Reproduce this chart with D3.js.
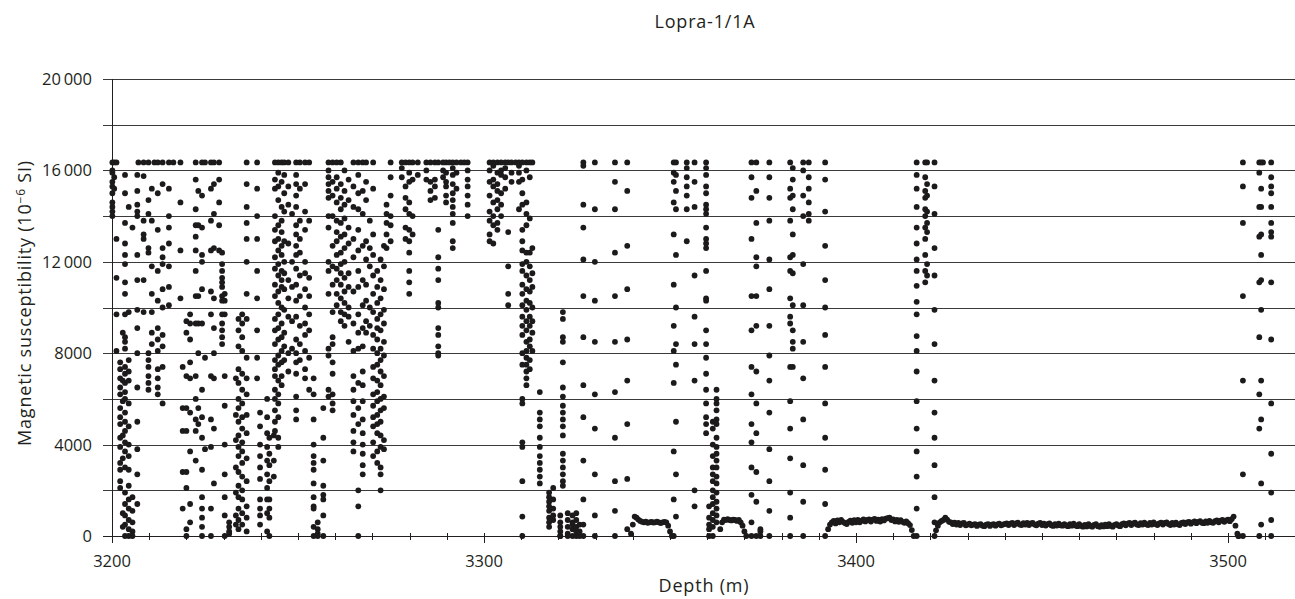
<!DOCTYPE html>
<html lang="en">
<head>
<meta charset="UTF-8" />
<title>Lopra-1/1A</title>
<script src="https://d3js.org/d3.v7.min.js"></script>
<style>
  body { margin: 0; background: #fff; }
  svg { display: block; font-family: "Open Sans", Lato, sans-serif; fill: #231f20; }
  .grid line { stroke: #3a3a3a; stroke-width: 1; shape-rendering: crispEdges; }
  .axis line { stroke: #231f20; stroke-width: 1; shape-rendering: crispEdges; }
  .tick-label { font-size: 16.5px; fill: #231f20; }
  .title, .axis-title { font-size: 18px; letter-spacing: 0.8px; fill: #231f20; }
  .dot { fill: #1c1a1a; }
</style>
</head>
<body>
<script>
// Magnetic susceptibility, values in thousands of 10^-6 SI, grouped by depth (m)
const cols3200 = [
  [3200.1, [16.35, 16.0, 15.9, 15.5, 15.3, 15.0, 14.6, 14.4, 14.2, 14.0]],
  [3200.6, [16.35, 15.7, 15.2]],
  [3201.2, [16.35, 13.0, 11.3, 9.7, 8.1]],
  [3202.2, [7.6, 7.3, 6.9, 6.5, 6.2, 5.6, 5.2, 4.9, 4.3, 3.9, 3.2, 2.9, 2.4, 2.1]],
  [3202.9, [8.9, 6.8, 5.9, 4.4, 3.4, 1.0, 0.4]],
  [3203.5, [15.8, 15.0, 13.7, 12.8, 12.3, 11.9, 11.1, 10.6, 9.7, 8.7, 8.5, 8.2, 7.4, 7.1, 6.7, 6.3, 6.0, 5.4, 5.0, 4.6, 4.1, 3.7, 3.0, 1.9, 1.4, 0.9, 0.5, 0]],
  [3204.5, [14.4, 9.8, 7.7, 7.2, 6.8, 5.8, 4.8, 4.0, 3.5, 2.9, 2.2, 1.6, 1.2, 0.7, 0.3, 0]],
  [3205.5, [13.5, 1.7, 1.1, 0.6, 0.2, 0]],
  [3206.8, [15.8, 15.1, 14.5, 14.2, 14.0, 12.3, 11.2, 9.9, 9.1, 8.0, 6.5, 5.0, 3.8, 2.7, 1.4]],
  [3207.1, [16.35]],
  [3208.5, [16.35, 15.75, 13.8, 13.2, 13.0, 11.2, 9.8]],
  [3209.8, [16.35, 14.7, 14.1, 12.6, 12.4, 8.0, 7.7, 7.4, 7.0, 6.7, 6.4]],
  [3210.7, [15.2, 13.8, 11.8, 10.6, 9.8, 8.9, 8.4]],
  [3211.4, [16.35]],
  [3212.3, [16.35, 15.0, 13.4, 11.6, 10.3, 9.1, 8.6, 8.1, 7.3, 6.9, 6.5, 6.2]],
  [3213.6, [16.35, 15.4, 12.6, 12.2, 11.9, 10.8, 10.0, 8.8, 8.3, 7.4, 5.8]],
  [3215.3, [16.35, 15.2, 14.0, 13.5, 12.8, 11.8, 10.9, 10.1]],
  [3216.5, [16.35]],
  [3218.4, [16.35, 14.6, 12.5, 10.4]],
  [3219.0, [7.4, 5.6, 4.6, 2.8, 1.2]],
  [3220.0, [9.4, 8.9, 7.0, 5.6, 4.6, 2.8, 2.1, 0.3, 0]],
  [3221.0, [9.7, 9.3, 8.6, 7.6, 6.9, 5.4, 3.7, 1.4, 0.6]],
  [3222.5, [16.35, 15.6, 14.3, 13.6, 13.1, 12.5, 11.6, 10.5, 9.3, 7.0, 6.0, 5.1, 4.6, 3.3]],
  [3223.2, [15.1, 13.6, 10.5, 9.3, 8.0, 5.6, 4.9]],
  [3224.2, [16.35, 14.9, 13.5, 12.3, 12.0, 10.8, 9.3, 6.4, 5.2, 4.3, 2.9, 1.7, 1.2, 0.8, 0.4, 0]],
  [3225.0, [16.35, 7.8, 3.8]],
  [3226.6, [16.35, 15.2, 13.8, 12.5, 10.7, 9.7, 7.0, 5.1, 3.9, 1.2, 0]],
  [3227.4, [16.35, 15.4, 14.1, 12.6, 10.4, 9.1, 8.0, 6.9, 4.7, 2.3]],
  [3228.8, [16.35, 15.6, 14.6, 13.6, 12.5]],
  [3229.6, [12.4, 11.9, 11.6, 11.3, 11.1, 10.9, 10.5, 10.3, 9.7, 9.3, 9.0, 8.7, 8.4]],
  [3230.3, [10.6, 10.3, 9.7, 7.0, 5.7, 4.0, 2.7, 1.7, 0.9, 0]],
  [3231.5, [0.6, 0.4, 0.2, 0.1]],
  [3233.3, [6.9, 5.3, 4.2, 3.0, 1.9, 0.9, 0.5]],
  [3234.0, [9.5, 9.0, 8.3, 7.3, 6.7, 6.0, 5.6, 5.0, 4.4, 3.9, 3.5, 2.8, 2.2, 1.7, 1.2, 0.7, 0.3]],
  [3235.0, [9.7, 9.3, 8.7, 8.1, 7.1, 6.4, 5.8, 5.2, 4.7, 4.1, 3.7, 3.2, 2.6, 2.0, 1.6, 1.0, 0.5]],
  [3236.2, [16.35, 15.4, 14.4, 13.7, 13.0, 12.0, 10.6, 9.5, 7.8, 6.9, 6.2, 5.3, 4.5, 3.4, 2.4, 1.3, 0.8, 0.2]],
  [3239.0, [16.35, 15.2, 14.0, 13.0, 11.6, 10.4, 9.0, 7.8, 6.9]],
  [3239.8, [5.4, 4.8, 4.0, 3.5, 3.0, 2.5, 1.6, 1.2, 0.9, 0.5]],
  [3241.7, [6.0, 5.2, 4.5, 3.9, 3.3, 2.7, 2.1, 1.6, 1.0, 0.2]],
  [3242.3, [4.3, 3.6, 3.1, 2.4, 1.6, 1.2, 0.8, 0]]
];

const cols3243 = [
  [3243.5, [4.4, 3.3, 2.6]],
  [3243.8, [16.35, 15.6, 15.2, 14.0, 13.4, 12.9, 12.2, 11.7, 11.0, 10.5, 9.5, 9.0, 8.4, 7.7, 7.3, 7.0, 6.4, 6.0, 5.5, 5.0, 4.6]],
  [3244.7, [16.35, 15.9, 15.3, 14.7, 13.6, 13.0, 12.5, 11.9, 11.4, 10.7, 10.2, 9.7, 9.1, 8.6, 7.9, 7.5, 6.8, 6.2, 5.8, 5.2, 4.3, 3.9]],
  [3245.6, [16.35, 15.5, 14.4, 13.8, 13.3, 12.7, 12.3, 11.6, 11.2, 10.9, 10.0, 9.3, 8.7, 8.1, 7.6, 7.0, 6.6]],
  [3246.3, [16.35, 15.8, 15.0, 14.2, 12.9, 12.0, 11.5, 10.8, 9.9, 8.9, 8.3, 7.7]],
  [3247.4, [16.35, 15.3, 14.5, 12.8, 11.2, 10.4, 9.6, 8.0, 7.2]],
  [3248.4, [14.1, 12.0, 10.9, 9.4, 8.2]],
  [3249.5, [16.35, 15.8, 15.4, 14.9, 14.4, 13.6, 13.2, 12.7, 12.3, 11.7, 11.0, 10.3, 9.6, 8.6, 8.0, 7.6, 7.1, 6.1, 5.5, 5.1]],
  [3250.5, [16.35, 15.2, 13.8, 13.0, 12.4, 11.4, 10.5, 9.2, 8.4, 7.7]],
  [3251.9, [16.35, 15.4, 14.2, 13.4, 12.0, 11.5, 10.8, 10.0, 9.3, 8.8, 8.1, 7.3, 6.9]],
  [3253.0, [16.35, 13.8, 11.3, 10.5, 9.7, 9.0, 7.8, 6.4]],
  [3254.2, [6.9, 6.2, 5.1, 4.0, 3.5, 3.2, 2.9, 2.3, 1.7, 1.3, 1.2, 0.4, 0]],
  [3255.3, [0.6, 0.3, 0.1, 0]],
  [3256.8, [5.6, 4.3, 3.3, 2.2, 1.8, 1.6, 0.9, 0]],
  [3258.2, [16.35, 16.0, 15.7, 15.4, 15.1, 14.8, 14.0, 13.5, 12.0, 11.6, 10.6, 8.2, 7.9, 6.4, 6.1]],
  [3259.3, [16.35, 15.5, 14.9, 14.0, 12.7, 11.8, 11.0, 9.8, 8.7, 8.4, 7.6, 7.1, 6.2, 5.8, 5.5]],
  [3260.4, [16.35, 15.7, 15.2, 14.6, 13.8, 13.3, 12.9, 12.3, 11.7, 11.2, 10.6, 10.1]],
  [3261.5, [16.35, 15.4, 14.8, 14.3, 13.7, 13.1, 12.4, 11.9, 11.5, 11.0, 10.4, 9.8, 9.4]],
  [3262.5, [16.0, 15.1, 14.5, 13.9, 13.2, 12.6, 12.0, 11.3, 10.7, 10.2, 9.7, 9.2]],
  [3263.6, [15.6, 14.7, 13.5, 12.8, 11.5, 10.9, 10.0, 9.6, 8.5]],
  [3264.9, [16.35, 15.3, 14.4, 13.0, 12.2, 10.7, 9.3, 8.1, 7.0, 6.4, 5.9, 5.3, 4.6, 4.1, 3.7]],
  [3266.2, [16.35, 15.8, 15.0, 14.3, 13.4, 12.5, 11.6, 10.9, 9.7, 8.9, 8.2, 6.7, 5.6, 4.9, 2.0, 1.3, 0]],
  [3267.4, [16.35, 15.1, 14.1, 12.7, 11.2, 10.1, 9.1, 8.3, 7.2, 6.6, 5.9, 5.1, 4.5, 4.0, 3.6, 3.1, 2.7]],
  [3268.3, [16.35, 15.5, 14.7, 12.9, 12.1, 11.0, 10.3, 9.4, 8.9]],
  [3269.3, [13.8, 12.6, 11.8, 10.0, 9.2]],
  [3270.2, [16.35, 15.2, 13.2, 12.3, 11.4, 10.6, 9.8, 8.8, 8.2, 7.4, 6.9, 6.2, 5.7, 5.2, 4.8, 4.1, 3.5]],
  [3271.3, [11.6, 10.9, 10.2, 9.5, 9.1, 8.6, 8.0, 7.5, 6.8, 6.3, 5.9, 5.3, 4.9, 4.5, 3.7, 3.2]],
  [3272.2, [12.1, 11.2, 10.4, 9.7, 9.0, 8.2, 7.7, 7.2, 6.6, 6.0, 5.5, 5.0, 4.4, 3.9, 3.0, 2.7, 2.0]],
  [3273.1, [12.7, 11.8, 10.8, 9.9, 9.3, 8.5, 7.9, 7.0, 6.1, 5.6, 4.2, 3.8]],
  [3273.8, [14.5, 14.1, 13.7, 13.2, 12.6]],
  [3274.9, [16.35, 15.7, 14.9, 14.0, 13.6, 12.9]],
  [3277.9, [16.35, 16.1, 15.7]],
  [3278.9, [16.35, 15.3, 14.8, 14.3, 13.5, 13.0]],
  [3279.9, [16.35, 15.9, 15.5, 14.6, 14.1, 13.4, 12.9, 12.4, 11.6, 11.1, 10.6]],
  [3280.8, [16.35, 15.6, 14.0, 13.2]],
  [3282.2, [16.35, 15.8]]
];

const cols3284 = [
  [3284.5, [16.35, 16.0, 15.6]],
  [3285.6, [16.35, 15.5, 15.1, 14.7]],
  [3286.8, [16.35, 15.6, 15.3, 14.8]],
  [3287.7, [16.35, 13.4, 12.2, 11.7, 11.2, 10.2, 10.0, 9.1, 8.8, 8.3, 8.0, 7.9]],
  [3289.0, [16.35, 16.0, 15.7]],
  [3289.8, [16.35, 15.9, 15.5, 15.3, 14.9, 14.6]],
  [3290.7, [16.35]],
  [3291.6, [16.35, 16.1, 15.8, 15.4, 15.0, 14.7, 14.4, 14.1, 13.7, 12.9, 12.6]],
  [3292.6, [16.35, 15.9, 15.2]],
  [3293.8, [16.35]],
  [3294.7, [16.35]],
  [3295.6, [16.35, 16.0, 15.6, 15.3, 14.9, 14.5, 14.0]],
  [3301.5, [16.35, 16.0, 15.5, 14.9, 14.2, 13.8, 13.2, 12.9]],
  [3302.5, [16.35, 16.2, 15.6, 15.3, 14.6, 14.0, 13.6, 12.8]],
  [3303.6, [16.35, 15.9, 15.4, 15.1, 14.7, 14.3, 13.7, 13.4]],
  [3304.6, [16.35, 16.0, 15.8, 15.0, 14.5, 14.0]],
  [3305.7, [16.35, 16.1, 15.7, 15.2]],
  [3306.5, [16.35, 13.3, 11.8, 10.6, 10.1]],
  [3307.4, [16.35, 15.9, 15.5]],
  [3308.5, [16.35]],
  [3309.4, [16.35, 16.2, 15.9, 15.5, 14.3]],
  [3310.3, [16.35, 15.6, 15.0, 14.5, 13.4, 12.9, 12.5, 11.9, 11.6, 11.0, 10.6, 10.1, 9.6, 9.2, 8.8, 8.0, 7.5, 6.0, 5.8, 4.1, 3.9, 2.4, 0.85, 0]],
  [3311.4, [16.35, 16.0, 14.6, 14.1, 13.6, 12.4, 12.0, 11.4, 10.8, 10.3, 9.9, 9.4, 9.0, 8.5, 8.1, 7.8, 7.5, 7.2, 6.9, 6.6]],
  [3312.3, [16.35, 15.7, 13.9, 12.4, 11.8, 11.2, 10.7, 10.2, 9.6, 9.2, 8.6, 8.3, 7.7, 7.3]],
  [3313.0, [16.35, 12.6, 11.5, 10.9, 10.0, 9.4, 8.9, 8.1]],
  [3315.0, [6.3, 5.4, 5.1, 4.8, 4.3, 3.9, 3.5, 3.2, 2.9, 2.6, 2.3]],
  [3317.5, [1.9, 1.7, 1.5, 1.3, 1.1, 0.8, 0.6, 0.4]],
  [3318.6, [2.1, 1.6, 1.2, 0.9, 0.7]],
  [3320.5, [0.9, 0.6, 0.4, 0.2, 0, 0]],
  [3321.2, [9.8, 9.5, 8.7, 8.5, 7.6, 6.5, 6.1, 5.7, 5.4, 5.1, 4.8, 4.4, 3.6, 3.3, 3.0, 2.7, 2.4, 2.2]],
  [3322.5, [1.0, 0.7, 0.4, 0.1, 0]],
  [3323.8, [0.9, 0.6, 0.5, 0.3, 0]],
  [3324.8, [1.0, 0.7, 0.4, 0.2, 0]],
  [3325.7, [0.5, 0.2, 0]]
];

const cols3326 = [
  [3326.7, [16.35, 16.2, 14.5, 13.5, 12.1, 10.5, 8.7, 6.6, 5.2, 3.3, 1.6, 0.5, 0]],
  [3329.8, [16.35, 14.3, 12.0, 10.3, 8.5, 6.2, 4.7, 2.7, 0.9, 0]],
  [3335.2, [16.35, 15.5, 14.3, 12.4, 10.5, 8.5, 6.3, 4.3, 2.4, 1.1, 0]],
  [3338.5, [16.35, 15.1, 12.7, 10.8, 8.6, 6.8, 4.9, 2.5, 0.3]],
  [3351.0, [16.35, 15.9, 15.5, 14.6, 13.2, 11.0, 9.2, 8.1, 6.7, 3.7, 1.6, 0]],
  [3351.6, [16.35, 15.8, 15.1, 14.3, 12.3, 10.0, 8.4, 7.5, 5.0, 2.7, 0.85]],
  [3354.5, [16.35, 16.1, 15.7, 15.3, 14.9, 14.3, 12.9]],
  [3356.6, [16.35, 15.5, 14.4, 11.4, 9.6, 8.4, 6.8, 2.0, 1.3]],
  [3359.7, [16.35, 16.1, 15.8, 15.3, 15.0, 14.5, 14.3, 14.1, 13.5, 13.0, 12.8, 12.6, 11.6, 10.4, 10.3, 9.0, 8.4, 7.8, 7.1, 6.4, 5.8, 5.2, 4.9, 4.5]],
  [3360.5, [1.3, 0.8, 0.5, 0.3, 0]],
  [3361.5, [5.0, 4.7, 4.0, 3.5, 3.0, 2.7, 2.4, 2.0, 1.7, 1.4, 1.0, 0.7, 0.4, 0]],
  [3362.5, [6.4, 6.0, 5.8, 5.5, 5.1, 4.9, 4.3, 3.9, 3.6, 3.3, 3.0, 2.6, 2.3, 1.9, 1.5, 1.2, 0.9, 0.6]],
  [3371.9, [16.35, 15.7, 14.8, 13.0, 10.5, 9.0, 7.4, 6.2, 4.9, 4.1, 3.0, 1.8, 0.6, 0]],
  [3373.2, [16.35, 15.1, 13.7, 12.2, 11.8, 10.5, 9.2, 7.2, 5.8, 4.5, 2.8, 1.5, 0]],
  [3374.3, [0.3, 0.2, 0]],
  [3376.7, [16.35, 15.7, 14.8, 13.8, 12.1, 10.8, 9.2, 7.9, 6.8, 5.4, 3.8, 2.4, 1.1, 0]],
  [3382.3, [16.35, 15.2, 14.8, 13.8, 12.2, 11.6, 10.4, 9.6, 9.3, 7.4, 5.9, 4.7, 3.4, 1.9, 0.8, 0]],
  [3383.0, [16.1, 15.6, 14.9, 14.3, 13.2, 12.3, 11.5, 10.1, 9.0, 8.5, 8.2, 7.4]],
  [3385.8, [16.35, 16.0, 14.9, 14.0, 11.9, 10.1, 8.5, 6.9, 5.1, 3.1, 1.5, 0]],
  [3387.3, [16.35, 15.7, 15.2, 14.6, 14.1, 13.8]],
  [3391.7, [16.35, 15.6, 14.2, 12.7, 11.2, 10.0, 8.8, 7.4, 5.8, 4.3, 2.9, 1.4, 0]]
];

const cols3416 = [
  [3416.3, [16.35, 15.8, 15.2, 14.4, 13.5, 12.8, 12.1, 11.6, 10.95, 10.25, 9.7, 8.75, 8.1, 7.2, 5.9, 4.7, 3.7, 2.6, 1.2, 0]],
  [3418.6, [16.35, 15.7, 15.1, 14.8, 14.3, 14.0, 13.5, 13.0, 12.3, 11.6, 11.1]],
  [3419.1, [16.35, 15.4, 14.9, 14.2, 13.7, 13.3, 11.9, 11.4]],
  [3421.1, [16.35, 15.3, 14.1, 12.6, 11.4, 9.9, 8.4, 6.8, 5.4, 4.3, 3.1, 1.7, 0.6, 0]]
];

const cols3502 = [
  [3502.8, [0, 0]],
  [3504.0, [16.35, 15.3, 13.7, 10.5, 6.8, 2.7, 0]],
  [3508.4, [16.35, 15.9, 14.4, 13.1, 11.1, 8.7, 6.2, 4.7, 0]],
  [3508.9, [16.35, 15.2, 14.4, 13.2, 12.3, 11.2, 9.9, 6.8, 5.1, 2.3, 0.5]],
  [3509.4, [16.35]],
  [3511.6, [16.35, 15.7, 15.3, 15.0, 14.4, 13.7, 13.3, 13.1, 11.1, 8.6, 5.8, 3.6, 1.9, 0.7, 0]]
];

// Low, steady stretches logged every 0.5 m (thousands of 10^-6 SI)
const runStep = 0.5;
const runA = { start: 3339.5, values: [0.1, 0.5, 0.85, 0.8, 0.72, 0.66, 0.62, 0.6, 0.63, 0.58, 0.6, 0.62, 0.59, 0.6, 0.63, 0.6, 0.57, 0.6, 0.62, 0.6, 0.45, 0.2, 0] };
const runB = { start: 3363.5, values: [0.3, 0.6, 0.72, 0.7, 0.74, 0.7, 0.68, 0.72, 0.7, 0.66, 0.7, 0.6, 0.45, 0.2, 0] };
const runC = { start: 3392.5, values: [
  0.3, 0.5, 0.6, 0.66, 0.55, 0.68, 0.6, 0.7, 0.62, 0.57,
  0.52, 0.62, 0.67, 0.58, 0.69, 0.6, 0.7, 0.6, 0.67, 0.73,
  0.64, 0.7, 0.73, 0.63, 0.72, 0.75, 0.66, 0.72, 0.63, 0.74,
  0.68, 0.76, 0.78, 0.8, 0.7, 0.73, 0.64, 0.7, 0.62, 0.69,
  0.62, 0.58, 0.64, 0.56, 0.48, 0.26, 0] };
const runD = { start: 3421.5, values: [
  0.25, 0.45, 0.6, 0.66, 0.7, 0.8, 0.72, 0.62, 0.6, 0.52,
  0.58, 0.5, 0.57, 0.48, 0.55, 0.57, 0.47, 0.5, 0.54, 0.47,
  0.5, 0.52, 0.44, 0.5, 0.52, 0.45, 0.43, 0.5, 0.52, 0.44,
  0.5, 0.52, 0.45, 0.51, 0.54, 0.47, 0.5, 0.53, 0.55, 0.48,
  0.54, 0.57, 0.48, 0.55, 0.58, 0.5, 0.48, 0.56, 0.5, 0.57,
  0.48, 0.55, 0.57, 0.5, 0.47, 0.54, 0.57, 0.48, 0.54, 0.46,
  0.52, 0.55, 0.47, 0.44, 0.52, 0.46, 0.54, 0.47, 0.45, 0.52,
  0.46, 0.43, 0.52, 0.45, 0.54, 0.46, 0.43, 0.52, 0.44, 0.41,
  0.49, 0.42, 0.52, 0.44, 0.41, 0.49, 0.52, 0.43, 0.4, 0.48,
  0.42, 0.5, 0.43, 0.52, 0.44, 0.41, 0.49, 0.52, 0.46, 0.43,
  0.52, 0.55, 0.47, 0.54, 0.57, 0.48, 0.55, 0.58, 0.5, 0.48,
  0.56, 0.5, 0.58, 0.51, 0.48, 0.57, 0.5, 0.59, 0.52, 0.48,
  0.55, 0.58, 0.5, 0.57, 0.6, 0.52, 0.48, 0.57, 0.5, 0.58,
  0.51, 0.48, 0.57, 0.6, 0.52, 0.59, 0.62, 0.54, 0.6, 0.64,
  0.56, 0.62, 0.65, 0.58, 0.56, 0.64, 0.58, 0.66, 0.6, 0.58,
  0.65, 0.68, 0.6, 0.67, 0.7, 0.62, 0.68, 0.72, 0.65, 0.74,
  0.85, 0.45, 0.1] };

const yGridValues = d3.range(0, 20001, 2000);
const yLabelValues = [0, 4000, 8000, 12000, 16000, 20000];
const xMajorTicks = [3200, 3300, 3400, 3500];
const xMinorTicks = d3.range(3200, 3511, 10);

// flatten into points
const points = [];
[cols3200, cols3243, cols3284, cols3326, cols3416, cols3502].forEach(group => {
  group.forEach(([depth, vals]) => vals.forEach(v => points.push({ depth, si: v * 1000 })));
});
[runA, runB, runC, runD].forEach(run => {
  run.values.forEach((v, i) => points.push({ depth: run.start + i * runStep, si: v * 1000 }));
});

const width = 1295, height = 599;
const x = d3.scaleLinear().domain([3200, 3518]).range([112, 1295]);
const y = d3.scaleLinear().domain([0, 20000]).range([536, 79]);
const crisp = v => Math.round(v) + 0.5;

const svg = d3.select("body").append("svg")
  .attr("width", width)
  .attr("height", height);

// horizontal grid (also the y ticks)
svg.append("g").attr("class", "grid")
  .selectAll("line")
  .data(yGridValues.filter(v => v > 0))
  .join("line")
  .attr("x1", 103).attr("x2", width)
  .attr("y1", d => crisp(y(d))).attr("y2", d => crisp(y(d)));

// y tick labels
const fmt = v => v >= 10000 ? d3.format(",")(v).replace(",", "\u2009") : String(v);
svg.append("g")
  .selectAll("text")
  .data(yLabelValues)
  .join("text")
  .attr("class", "tick-label")
  .attr("x", 92)
  .attr("y", d => y(d))
  .attr("dy", "0.36em")
  .attr("text-anchor", "end")
  .text(fmt);

// axes
const axes = svg.append("g").attr("class", "axis");
axes.append("line")
  .attr("x1", crisp(x(3200))).attr("x2", crisp(x(3200)))
  .attr("y1", y(20000)).attr("y2", y(0) + 7);
axes.append("line")
  .attr("x1", 103).attr("x2", width)
  .attr("y1", crisp(y(0))).attr("y2", crisp(y(0)));
axes.selectAll(".minor")
  .data(xMinorTicks)
  .join("line")
  .attr("class", "minor")
  .attr("x1", d => crisp(x(d))).attr("x2", d => crisp(x(d)))
  .attr("y1", y(0) - 3)
  .attr("y2", d => y(0) + (d % 100 === 0 ? 7 : 4));

svg.append("g")
  .selectAll("text")
  .data(xMajorTicks)
  .join("text")
  .attr("class", "tick-label")
  .attr("x", d => x(d))
  .attr("y", 567)
  .attr("text-anchor", "middle")
  .text(d => d);

// points
svg.append("g")
  .selectAll("circle")
  .data(points)
  .join("circle")
  .attr("class", "dot")
  .attr("cx", d => x(d.depth))
  .attr("cy", d => y(d.si))
  .attr("r", 2.9);

// titles
svg.append("text")
  .attr("class", "title")
  .attr("x", 705).attr("y", 28)
  .attr("text-anchor", "middle")
  .text("Lopra-1/1A");

svg.append("text")
  .attr("class", "axis-title")
  .attr("x", 704).attr("y", 592)
  .attr("text-anchor", "middle")
  .text("Depth (m)");

const yTitle = svg.append("text")
  .attr("class", "axis-title")
  .attr("transform", "translate(31,303) rotate(-90)")
  .attr("text-anchor", "middle");
yTitle.append("tspan").text("Magnetic susceptibility (10");
yTitle.append("tspan").attr("dy", -6).attr("font-size", 12).text("\u22126");
yTitle.append("tspan").attr("dy", 6).text(" SI)");
</script>
</body>
</html>
